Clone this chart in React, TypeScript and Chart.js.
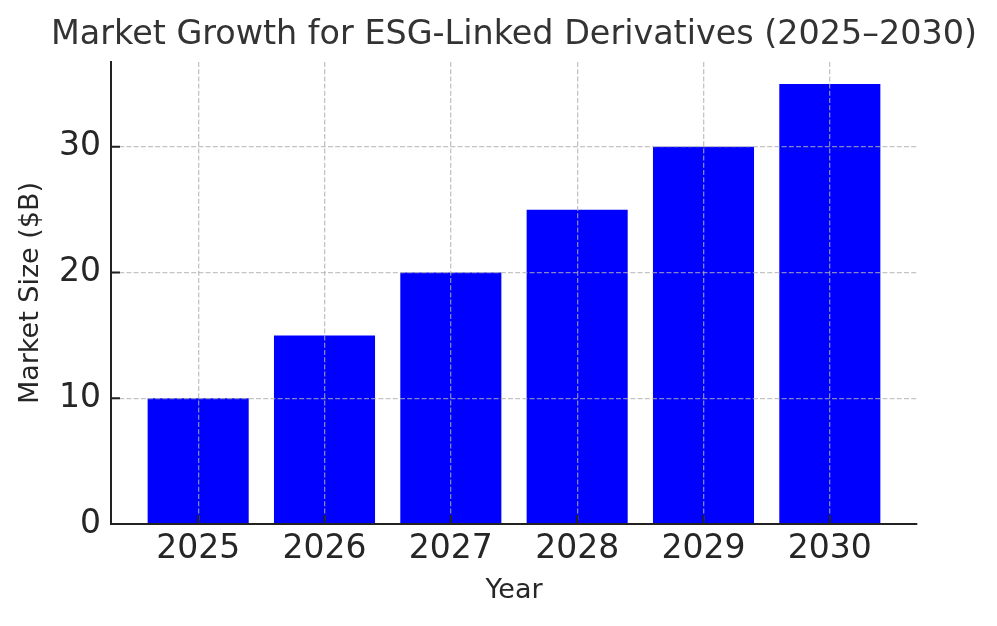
import React, { useEffect, useRef } from "react";
import { Chart, registerables } from "chart.js";

Chart.register(...registerables);

const titleText = "Market Growth for ESG-Linked Derivatives (2025–2030)";
const years = ["2025", "2026", "2027", "2028", "2029", "2030"];
const marketSize = [10, 15, 20, 25, 30, 35];
const yTicks = [0, 10, 20, 30];
const xLabel = "Year";
const yLabel = "Market Size ($B)";

const FONT = "'DejaVu Sans', sans-serif";

const titlePlugin = {
  id: "mplTitle",
  afterDraw(chart: any) {
    const { ctx, chartArea } = chart;
    ctx.save();
    ctx.font = `33.4px ${FONT}`;
    ctx.fillStyle = "#333333";
    ctx.textAlign = "center";
    ctx.textBaseline = "middle";
    ctx.fillText(titleText, (chartArea.left + chartArea.right) / 2, 35);
    ctx.restore();
  },
};

const innerTicksPlugin = {
  id: "innerTicks",
  afterDraw(chart: any) {
    const { ctx, chartArea } = chart;
    const xs = chart.scales.x;
    const ys = chart.scales.y;
    ctx.save();
    ctx.setLineDash([]);
    ctx.strokeStyle = "#222222";
    ctx.lineWidth = 2;
    ctx.beginPath();
    years.forEach((_, i) => {
      const px = xs.getPixelForValue(i);
      ctx.moveTo(px, chartArea.bottom);
      ctx.lineTo(px, chartArea.bottom - 9);
    });
    yTicks.forEach((v) => {
      const py = ys.getPixelForValue(v);
      ctx.moveTo(chartArea.left, py);
      ctx.lineTo(chartArea.left + 9, py);
    });
    ctx.stroke();
    ctx.restore();
  },
};

export default function App() {
  const ref = useRef<HTMLCanvasElement | null>(null);

  useEffect(() => {
    document.body.style.margin = "0";
    if (!ref.current) return;
    const gridColor = "rgba(176,176,176,0.75)";
    const chart = new Chart(ref.current, {
      type: "bar",
      data: {
        datasets: [
          {
            data: marketSize.map((v, i) => ({ x: i, y: v })),
            backgroundColor: "#0000ff",
            borderWidth: 0,
            barPercentage: 0.8,
            categoryPercentage: 1.0,
          },
        ],
      },
      options: {
        responsive: false,
        animation: false,
        devicePixelRatio: 1,
        layout: { padding: { left: 0, right: 80, top: 62, bottom: 0 } },
        plugins: {
          legend: { display: false },
          tooltip: { enabled: false },
          title: { display: false },
        },
        scales: {
          x: {
            type: "linear",
            min: -0.69,
            max: 5.69,
            offset: false,
            afterBuildTicks: (scale: any) => {
              scale.ticks = years.map((_, i) => ({ value: i }));
            },
            afterFit: (scale: any) => {
              scale.height = 102;
              scale.paddingLeft = 0;
              scale.paddingRight = 0;
            },
            ticks: {
              callback: (v: any) => years[v as number] ?? "",
              font: { family: FONT, size: 33 },
              color: "#262626",
              padding: 6,
              maxRotation: 0,
              autoSkip: false,
            },
            grid: {
              color: gridColor,
              lineWidth: 1.3,
              drawTicks: false,
              offset: false,
              z: 1,
            },
            border: { display: true, color: "#222222", width: 2, dash: [5, 2.2], z: 2 },
            title: {
              display: true,
              text: xLabel,
              font: { family: FONT, size: 27 },
              color: "#262626",
              padding: { top: 0, bottom: 19 },
            },
          },
          y: {
            min: 0,
            max: 36.75,
            afterBuildTicks: (scale: any) => {
              scale.ticks = yTicks.map((v) => ({ value: v }));
            },
            afterFit: (scale: any) => {
              scale.width = 111;
              scale.paddingTop = 0;
              scale.paddingBottom = 0;
            },
            ticks: {
              font: { family: FONT, size: 33 },
              color: "#262626",
              padding: 10,
            },
            grid: {
              color: gridColor,
              lineWidth: 1.3,
              drawTicks: false,
              z: 1,
            },
            border: { display: true, color: "#222222", width: 2, dash: [5, 2.2], z: 2 },
            title: {
              display: true,
              text: yLabel,
              font: { family: FONT, size: 27 },
              color: "#262626",
              padding: { top: 15, bottom: 0 },
            },
          },
        },
      } as any,
      plugins: [titlePlugin, innerTicksPlugin],
    });
    return () => chart.destroy();
  }, []);

  return (
    <div style={{ width: 997, height: 626 }}>
      <canvas ref={ref} width={997} height={626} style={{ display: "block" }} />
    </div>
  );
}
